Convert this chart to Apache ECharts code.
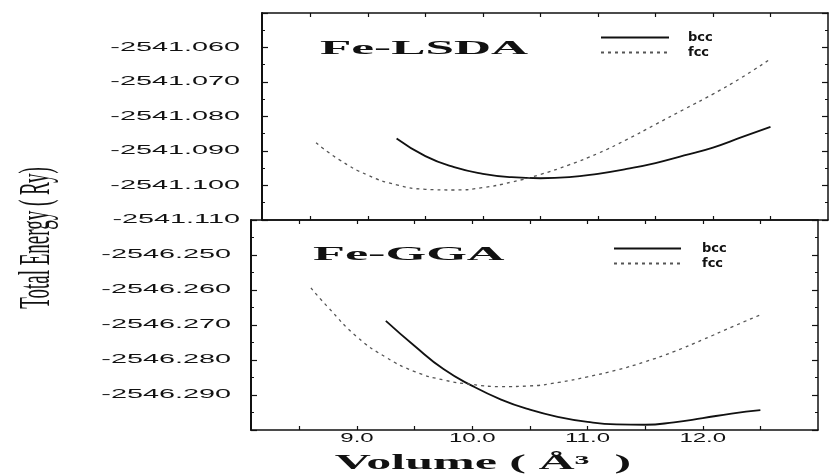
<!DOCTYPE html>
<html>
<head>
<meta charset="utf-8">
<script src="https://cdn.jsdelivr.net/npm/echarts@6/dist/echarts.min.js"></script>
<style>
  html, body { margin: 0; padding: 0; background: #fff; }
  #main { width: 830px; height: 475px; }
</style>
</head>
<body>
<div id="main"></div>
<script>
// 数据: 体积 (Å^3) 与总能量 (Ry)
var lsdaBccV = [9.25, 9.5, 9.75, 10.0, 10.25, 10.5, 10.75, 11.0, 11.25, 11.5, 11.75, 12.0, 12.25, 12.5];
var lsdaBccE = [-2541.0864, -2541.0915, -2541.0947, -2541.0966, -2541.0976, -2541.0979, -2541.0976,
    -2541.0966, -2541.0952, -2541.0935, -2541.0913, -2541.0890, -2541.0860, -2541.0830];

var lsdaFccV = [8.55, 8.75, 9.0, 9.25, 9.5, 9.75, 10.0, 10.25, 10.5, 10.75, 11.0, 11.25, 11.5, 11.75, 12.0, 12.25, 12.5];
var lsdaFccE = [-2541.0876, -2541.0925, -2541.0970, -2541.0998, -2541.1011, -2541.1013, -2541.1006, -2541.0990,
    -2541.0968, -2541.0940, -2541.0907, -2541.0867, -2541.0823, -2541.0779, -2541.0735, -2541.0687, -2541.0633];

var ggaBccV = [9.25, 9.5, 9.75, 10.0, 10.25, 10.5, 10.75, 11.0, 11.25, 11.5, 11.75, 12.0, 12.25, 12.5];
var ggaBccE = [-2546.2688, -2546.2760, -2546.2826, -2546.2874, -2546.2913, -2546.2942, -2546.2963,
    -2546.2977, -2546.2984, -2546.2985, -2546.2978, -2546.2966, -2546.2953, -2546.2943];

var ggaFccV = [8.6, 8.75, 9.0, 9.25, 9.5, 9.75, 10.0, 10.25, 10.5, 10.75, 11.0, 11.25, 11.5, 11.75, 12.0, 12.25, 12.5];
var ggaFccE = [-2546.2594, -2546.2650, -2546.2734, -2546.2792, -2546.2833, -2546.2857, -2546.2870, -2546.2876,
    -2546.2874, -2546.2864, -2546.2848, -2546.2829, -2546.2805, -2546.2776, -2546.2742, -2546.2706, -2546.2671];

// 刻度标签
var lsdaTicks = [-2541.060, -2541.070, -2541.080, -2541.090, -2541.100, -2541.110];
var ggaTicks = [-2546.250, -2546.260, -2546.270, -2546.280, -2546.290];
var volTicks = [9, 10, 11, 12];
var volMinor = [8.5, 9, 9.5, 10, 10.5, 11, 11.5, 12, 12.5];

var ink = '#111';

function pairs(xs, ys) {
    return xs.map(function(x, i) { return [x, ys[i]]; });
}

function xAxisFor(grid, pos) {
    return {
        type: 'value', gridIndex: grid, position: pos,
        min: 8.08, max: 13.0,
        axisLine: { show: true, onZero: false, lineStyle: { color: ink, width: 1.5 } },
        axisTick: { show: true, inside: true, length: 4, customValues: volMinor, lineStyle: { color: ink, width: 1.2 } },
        axisLabel: { show: false },
        splitLine: { show: false }
    };
}

function yAxisFor(grid, pos, min, max) {
    return {
        type: 'value', gridIndex: grid, position: pos,
        min: min, max: max, interval: 0.01, scale: true,
        axisLine: { show: true, onZero: false, lineStyle: { color: ink, width: pos === 'left' ? 2 : 1.5 } },
        axisTick: { show: true, inside: true, length: 6, lineStyle: { color: ink, width: 1.2 } },
        minorTick: { show: true, splitNumber: 2, length: 3, lineStyle: { color: ink, width: 1 } },
        axisLabel: { show: false },
        splitLine: { show: false }
    };
}

function lineSeries(name, xi, yi, data, dotted) {
    var c = dotted ? '#555' : ink;
    return {
        name: name, type: 'line', xAxisIndex: xi, yAxisIndex: yi,
        data: data, smooth: true, symbol: 'none',
        itemStyle: { color: c },
        lineStyle: dotted
            ? { color: c, width: 1.3, type: [3, 4] }
            : { color: c, width: 1.8 }
    };
}

function legendAt(left, top, w, gap) {
    return {
        orient: 'vertical', left: left, top: top, padding: 0,
        itemWidth: w, itemHeight: 10, itemGap: 2,
        data: ['bcc', 'fcc'],
        itemStyle: { opacity: 0 },
        textStyle: { color: ink, fontFamily: 'DejaVu Sans', fontWeight: 'bold', fontSize: 13, padding: [0, 0, 0, gap] }
    };
}

var chart = echarts.init(document.getElementById('main'));

chart.setOption({
    animation: false,
    backgroundColor: '#fff',
    grid: [
        { left: 262, top: 13, width: 566, height: 207 },
        { left: 251, top: 220, width: 567, height: 210 }
    ],
    xAxis: [
        xAxisFor(0, 'bottom'), xAxisFor(0, 'top'),
        xAxisFor(1, 'bottom'), xAxisFor(1, 'top')
    ],
    yAxis: [
        yAxisFor(0, 'left', -2541.11, -2541.05), yAxisFor(0, 'right', -2541.11, -2541.05),
        yAxisFor(1, 'left', -2546.30, -2546.24), yAxisFor(1, 'right', -2546.30, -2546.24)
    ],
    legend: [legendAt(600, 31, 68, 14), legendAt(613, 242, 67, 16)],
    series: [
        lineSeries('bcc', 0, 0, pairs(lsdaBccV, lsdaBccE), false),
        lineSeries('fcc', 0, 0, pairs(lsdaFccV, lsdaFccE), true),
        lineSeries('bcc', 2, 2, pairs(ggaBccV, ggaBccE), false),
        lineSeries('fcc', 2, 2, pairs(ggaFccV, ggaFccE), true)
    ]
});

// 拉伸的文字 (原图横向被拉宽)
var tickFont = '12px "Liberation Sans"';
var graphics = [];

lsdaTicks.forEach(function(v) {
    graphics.push({
        type: 'text', x: 240, y: chart.convertToPixel({ yAxisIndex: 0 }, v), scaleX: 2.4,
        style: { text: v.toFixed(3), font: tickFont, fill: ink, textAlign: 'right', textVerticalAlign: 'middle' }
    });
});
ggaTicks.forEach(function(v) {
    graphics.push({
        type: 'text', x: 231, y: chart.convertToPixel({ yAxisIndex: 2 }, v), scaleX: 2.4,
        style: { text: v.toFixed(3), font: tickFont, fill: ink, textAlign: 'right', textVerticalAlign: 'middle' }
    });
});
volTicks.forEach(function(v) {
    graphics.push({
        type: 'text', x: chart.convertToPixel({ xAxisIndex: 2 }, v), y: 439, scaleX: 2.0,
        style: { text: v.toFixed(1), font: tickFont, fill: ink, textAlign: 'center', textVerticalAlign: 'middle' }
    });
});

graphics.push(
    {
        type: 'text', x: 320, y: 49, scaleX: 2.7,
        style: { text: 'Fe-LSDA', font: 'bold 19px "Liberation Serif"', fill: ink, textAlign: 'left', textVerticalAlign: 'middle' }
    },
    {
        type: 'text', x: 313, y: 255, scaleX: 2.75,
        style: { text: 'Fe-GGA', font: 'bold 19px "Liberation Serif"', fill: ink, textAlign: 'left', textVerticalAlign: 'middle' }
    },
    {
        type: 'text', x: 483, y: 464, scaleX: 2.5,
        style: { text: 'Volume ( Å³  )', font: 'bold 20px "Liberation Serif"', fill: ink, textAlign: 'center', textVerticalAlign: 'middle' }
    },
    {
        type: 'text', x: 38, y: 238, rotation: Math.PI / 2, scaleY: 2.3,
        style: { text: 'Total Energy ( Ry)', font: '19px "Liberation Serif"', fill: ink, textAlign: 'center', textVerticalAlign: 'middle' }
    }
);

chart.setOption({ graphic: graphics });
</script>
</body>
</html>
